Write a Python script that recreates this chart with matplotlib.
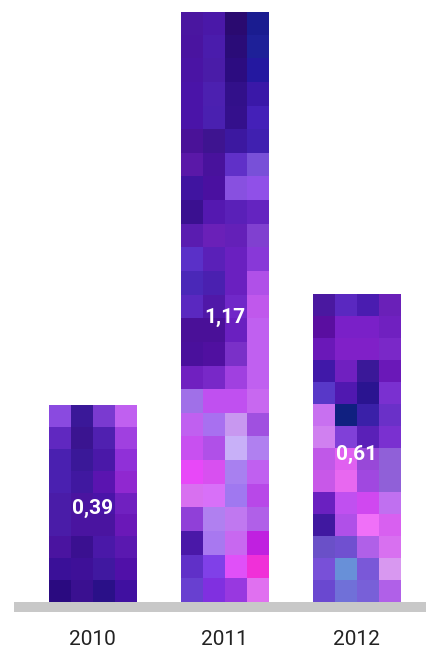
import numpy as np
import matplotlib
matplotlib.use("Agg")
import matplotlib.pyplot as plt
from matplotlib.colors import to_rgb

years = ["2010", "2011", "2012"]
values = [0.39, 1.17, 0.61]
value_labels = ["0,39", "1,17", "0,61"]

# pixel-mosaic fill of each bar, rows top -> bottom, 4 tiles per row
tiles_2010 = [
    ["#8a4ae0", "#3a1898", "#7a3ad0", "#c060f0"],
    ["#6028c0", "#3a1490", "#5020b0", "#a040e0"],
    ["#4a20b0", "#3a1898", "#4a18a8", "#9030d8"],
    ["#4a20b0", "#4018a0", "#5a14b0", "#9028d0"],
    ["#4a1ca8", "#4a14a0", "#4a14a8", "#7020c0"],
    ["#4a1ca8", "#4a14a0", "#4a14a0", "#6a18b8"],
    ["#4a14a0", "#3a1090", "#4a18a8", "#5a18b0"],
    ["#3a1098", "#3e1098", "#4018a0", "#5010a8"],
    ["#2a0a80", "#3a1090", "#2a1088", "#4010a0"],
]
tiles_2011 = [
    ["#4a16a0", "#4a18a8", "#2a0a70", "#1a1c90"],
    ["#4a14a0", "#4a1cac", "#2a0c78", "#1e2098"],
    ["#4a14a4", "#4a1ca8", "#2c0c80", "#2418a0"],
    ["#4a14a8", "#4c20b0", "#32108a", "#3a18a8"],
    ["#4a14a8", "#4a20b0", "#34108c", "#4420b8"],
    ["#4a1298", "#3e1490", "#3c18a0", "#4020b0"],
    ["#5a18a8", "#48129c", "#6030c8", "#7850d8"],
    ["#4014a0", "#4a10a0", "#8850e0", "#9050e8"],
    ["#3a1090", "#5418b0", "#5a20b8", "#6424c0"],
    ["#5a1cb0", "#6a20b8", "#6420b8", "#8040d0"],
    ["#5a30c8", "#5a20b8", "#6a20c0", "#8838d8"],
    ["#4a28b8", "#4a20b0", "#6a20c0", "#b050e8"],
    ["#5a28c0", "#5018a8", "#7028c8", "#c058ec"],
    ["#4a1098", "#4a1098", "#6a20c0", "#c060f0"],
    ["#4a109c", "#5010a0", "#7a30c8", "#c060f0"],
    ["#7020c0", "#7828c8", "#a040e0", "#c060f0"],
    ["#a070e8", "#c050f0", "#c050f0", "#c868f0"],
    ["#c060f0", "#a870f0", "#c898f0", "#a050e0"],
    ["#c850f0", "#b050e8", "#c8b0f8", "#b080f0"],
    ["#e848f8", "#d850f0", "#a880f0", "#c060f0"],
    ["#d870f0", "#d870f8", "#a078f0", "#b848e8"],
    ["#9040d8", "#b080f0", "#c078f0", "#b060e8"],
    ["#4a18a8", "#a878f0", "#c868f0", "#c020e0"],
    ["#6030c8", "#8040e8", "#e050f8", "#f030d8"],
    ["#6840d0", "#8030e0", "#9838e0", "#e070f0"],
]
tiles_2012 = [
    ["#4a18a0", "#5a28c0", "#4a1cb0", "#6a20b8"],
    ["#5a0ea0", "#7a20c8", "#7a20c8", "#7020c0"],
    ["#6a18b8", "#8020c8", "#8020c8", "#7a28c8"],
    ["#4018a8", "#7020c0", "#3a1898", "#6a18b8"],
    ["#5838c8", "#5018b0", "#2a1490", "#7a30d0"],
    ["#c870f0", "#102080", "#3a20a8", "#6a30c8"],
    ["#d080f0", "#8040d8", "#5a20b8", "#7a30d0"],
    ["#c058e8", "#e060f0", "#9848d8", "#9060d8"],
    ["#c858e8", "#e868f0", "#a048e0", "#9060d8"],
    ["#6a20c0", "#c050f0", "#d048f0", "#c070f0"],
    ["#4018a0", "#b050e8", "#f070f8", "#d860f0"],
    ["#6a50c8", "#7050d0", "#b060e8", "#d870f0"],
    ["#7850d8", "#6890d8", "#7a58d8", "#d898f0"],
    ["#6a48d0", "#7070d8", "#7860d8", "#b060e8"],
]
bar_tiles = [tiles_2010, tiles_2011, tiles_2012]

fig = plt.figure(figsize=(4.26, 6.48), dpi=100)
ax = fig.add_axes([14 / 426, 36 / 648, 412 / 426, 612 / 648])

x = np.arange(len(years))
bars = ax.bar(x, values, width=0.66, color="none", edgecolor="none")

for patch, tiles in zip(bars, bar_tiles):
    img = np.array([[to_rgb(c) for c in row] for row in tiles])
    x0, w, h = patch.get_x(), patch.get_width(), patch.get_height()
    im = ax.imshow(img, extent=(x0, x0 + w, 0, h), aspect="auto",
                   interpolation="nearest", zorder=2)
    im.set_clip_path(patch)

for xi, v, lab in zip(x, values, value_labels):
    ax.text(xi, v * 0.485, lab, ha="center", va="center_baseline",
            color="white", fontsize=15, fontweight="bold",
            family="Roboto", zorder=3)

ax.set_xlim(-0.5947, 2.5265)
ax.set_ylim(-0.0198, 1.1938)
ax.axhspan(-0.0198, 0, color="#c8c8c8", lw=0, zorder=1)

ax.set_xticks(x)
ax.set_xticklabels(years, fontsize=15, family="Roboto", color="#222222")
ax.tick_params(axis="x", length=0, pad=13)
ax.set_yticks([])
for s in ax.spines.values():
    s.set_visible(False)

fig.savefig("out.png", dpi=100)
